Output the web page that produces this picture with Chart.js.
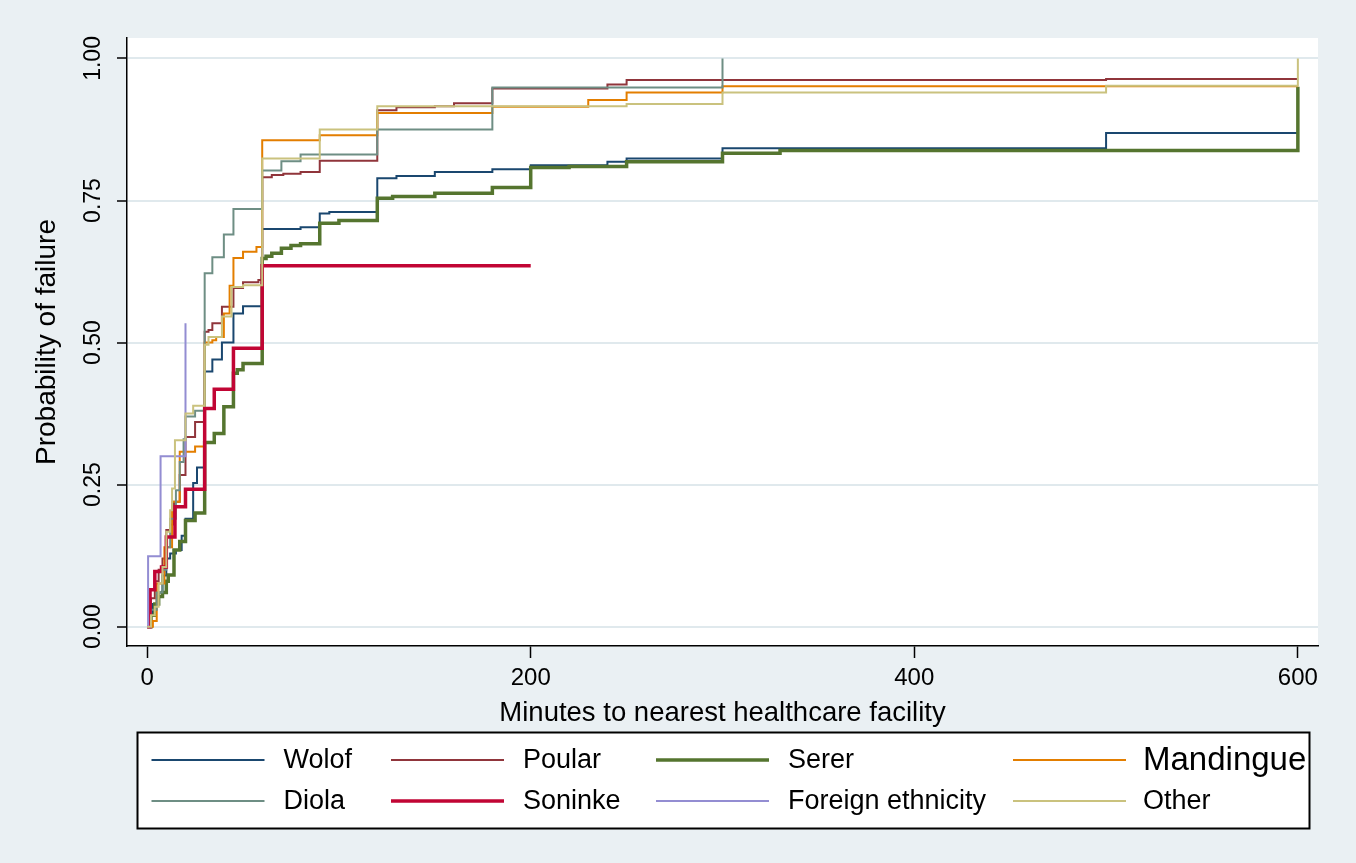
<!DOCTYPE html>
<html>
<head>
<meta charset="utf-8">
<script src="https://cdn.jsdelivr.net/npm/chart.js@4.4.1/dist/chart.umd.min.js"></script>
<style>
  html, body { margin: 0; padding: 0; background: #eaf0f3; }
  #wrap { width: 1356px; height: 863px; }
</style>
</head>
<body>
<div id="wrap"><canvas id="c" width="1356" height="863"></canvas></div>
<script>
// Kaplan-Meier failure estimates by ethnic group: minutes and cumulative failure
const groupNames = ['Wolof', 'Poular', 'Serer', 'Mandingue', 'Diola', 'Soninke', 'Foreign ethnicity', 'Other'];

const wolofMinutes = [0, 1, 2, 3, 5, 6, 8, 10, 12, 15, 18, 20, 24, 26, 30, 34, 39, 45, 50, 60, 80, 90, 95, 120, 130, 150, 180, 200, 240, 250, 300, 500, 600];
const wolofFailure = [0, 0.01, 0.02, 0.04, 0.05, 0.06, 0.09, 0.12, 0.129, 0.135, 0.16, 0.19, 0.253, 0.28, 0.449, 0.47, 0.50, 0.551, 0.564, 0.70, 0.703, 0.727, 0.73, 0.789, 0.793, 0.80, 0.805, 0.812, 0.818, 0.824, 0.842, 0.869, 0.869];

const poularMinutes = [0, 1, 2, 4, 6, 8, 10, 12, 14, 17, 20, 25, 30, 32, 34, 39, 45, 50, 58, 60, 65, 71, 80, 90, 120, 130, 150, 160, 180, 240, 250, 500, 600];
const poularFailure = [0, 0.03, 0.05, 0.08, 0.10, 0.12, 0.17, 0.18, 0.22, 0.267, 0.334, 0.36, 0.519, 0.522, 0.534, 0.563, 0.596, 0.606, 0.61, 0.791, 0.795, 0.797, 0.80, 0.82, 0.909, 0.914, 0.916, 0.921, 0.947, 0.954, 0.962, 0.964, 0.964];

const sererMinutes = [0, 2, 4, 6, 8, 10, 11, 14, 17, 20, 25, 30, 35, 40, 45, 47, 50, 60, 62, 65, 70, 75, 80, 90, 100, 120, 128, 150, 180, 200, 220, 250, 300, 330, 600];
const sererFailure = [0, 0.02, 0.04, 0.053, 0.06, 0.08, 0.091, 0.135, 0.15, 0.187, 0.20, 0.324, 0.34, 0.387, 0.446, 0.452, 0.463, 0.648, 0.652, 0.657, 0.666, 0.671, 0.674, 0.71, 0.715, 0.754, 0.757, 0.763, 0.773, 0.808, 0.81, 0.818, 0.833, 0.838, 0.95];

const mandingueMinutes = [0, 3, 5, 9, 13, 17, 25, 30, 34, 36, 40, 43, 45, 50, 57, 60, 90, 120, 180, 230, 250, 300, 600];
const mandingueFailure = [0, 0.01, 0.076, 0.14, 0.22, 0.308, 0.317, 0.50, 0.504, 0.51, 0.551, 0.60, 0.649, 0.66, 0.668, 0.856, 0.865, 0.904, 0.915, 0.927, 0.94, 0.951, 0.951];

const diolaMinutes = [0, 2, 5, 8, 10, 12, 15, 17, 19, 20, 25, 30, 34, 40, 45, 60, 70, 80, 120, 180, 300];
const diolaFailure = [0, 0.03, 0.06, 0.10, 0.14, 0.19, 0.24, 0.29, 0.33, 0.37, 0.38, 0.622, 0.65, 0.69, 0.735, 0.803, 0.819, 0.831, 0.875, 0.949, 1.0];

const soninkeMinutes = [0, 1.5, 4, 7.5, 10, 14.5, 20, 30, 35, 45, 60, 200];
const soninkeFailure = [0, 0.065, 0.097, 0.105, 0.158, 0.211, 0.242, 0.384, 0.418, 0.49, 0.635, 0.635];

const foreignMinutes = [0, 0.5, 7, 20];
const foreignFailure = [0, 0.124, 0.30, 0.534];

const otherMinutes = [0, 2, 4, 6, 8, 10, 12, 13, 14.5, 20, 24, 30, 32, 39, 44, 50, 60, 90, 120, 250, 300, 500, 600];
const otherFailure = [0, 0.02, 0.035, 0.076, 0.105, 0.167, 0.205, 0.243, 0.328, 0.375, 0.389, 0.496, 0.51, 0.546, 0.598, 0.601, 0.824, 0.875, 0.916, 0.92, 0.94, 0.952, 1.0];

const xTickValues = [0, 200, 400, 600];
const yTickValues = [0, 0.25, 0.5, 0.75, 1];

// ---- styling ----
const FONT = '"Liberation Sans", Arial, Helvetica, sans-serif';
const lineColors = ['#1a476f', '#90353b', '#55752f', '#e37e00', '#6e8e84', '#c10534', '#938dd2', '#cac27e'];
const lineWidths = [2, 2, 3.5, 2, 2, 3.5, 2, 2];

const seriesPairs = [
  [wolofMinutes, wolofFailure],
  [poularMinutes, poularFailure],
  [sererMinutes, sererFailure],
  [mandingueMinutes, mandingueFailure],
  [diolaMinutes, diolaFailure],
  [soninkeMinutes, soninkeFailure],
  [foreignMinutes, foreignFailure],
  [otherMinutes, otherFailure]
];

const datasets = groupNames.map((name, i) => ({
  label: name,
  data: seriesPairs[i][0].map((t, k) => ({ x: t, y: seriesPairs[i][1][k] })),
  borderColor: lineColors[i],
  backgroundColor: lineColors[i],
  borderWidth: lineWidths[i],
  stepped: 'before',
  pointRadius: 0,
  pointHoverRadius: 0,
  fill: false,
  borderCapStyle: 'butt',
  borderJoinStyle: 'miter',
  order: groupNames.length - i   // later groups are painted on top
}));

// Page background and white plot region
const backdropPlugin = {
  id: 'backdrop',
  beforeDraw(chart) {
    const { ctx, chartArea: a } = chart;
    ctx.save();
    ctx.fillStyle = '#eaf0f3';
    ctx.fillRect(0, 0, chart.width, chart.height);
    ctx.fillStyle = '#ffffff';
    ctx.fillRect(a.left, a.top, a.right - a.left, a.bottom - a.top);
    ctx.restore();
  }
};

// Boxed legend laid out as a 4 x 2 grid
const boxLegendPlugin = {
  id: 'boxLegend',
  afterDraw(chart, args, opts) {
    const { ctx } = chart;
    ctx.save();
    ctx.fillStyle = '#ffffff';
    ctx.fillRect(opts.left, opts.top, opts.width, opts.height);
    ctx.strokeStyle = '#000000';
    ctx.lineWidth = 2;
    ctx.strokeRect(opts.left, opts.top, opts.width, opts.height);
    chart.data.datasets.forEach((ds, i) => {
      const col = i % 4, row = Math.floor(i / 4);
      const y = opts.rows[row];
      const x0 = opts.lineStarts[col];
      ctx.strokeStyle = ds.borderColor;
      ctx.lineWidth = ds.borderWidth;
      ctx.beginPath();
      ctx.moveTo(x0, y);
      ctx.lineTo(x0 + opts.lineLength, y);
      ctx.stroke();
      const size = opts.fontSizes[ds.label] || opts.fontSize;
      ctx.font = size + 'px ' + FONT;
      ctx.fillStyle = '#000000';
      ctx.textAlign = 'left';
      ctx.textBaseline = 'middle';
      ctx.fillText(ds.label, opts.textStarts[col], y + 1);
    });
    ctx.restore();
  }
};

new Chart(document.getElementById('c'), {
  type: 'line',
  data: { datasets },
  plugins: [backdropPlugin, boxLegendPlugin],
  options: {
    responsive: false,
    animation: false,
    devicePixelRatio: 1,
    layout: { padding: { left: 0, right: 38, top: 38, bottom: 133.5 } },
    plugins: {
      legend: { display: false },
      tooltip: { enabled: false },
      boxLegend: {
        left: 137.5, top: 732.5, width: 1172, height: 96,
        rows: [760, 801],
        lineStarts: [151.5, 391, 656, 1013],
        lineLength: 113,
        textStarts: [283.5, 523, 788, 1143],
        fontSize: 27,
        fontSizes: { 'Mandingue': 33 }
      }
    },
    scales: {
      x: {
        type: 'linear',
        min: -10.5,
        max: 610.5,
        afterBuildTicks: s => { s.ticks = xTickValues.map(v => ({ value: v })); },
        afterFit: s => { s.height = 83.5; },
        grid: { display: true, drawOnChartArea: false, tickLength: 12, tickColor: '#000', tickWidth: 1.5 },
        border: { display: true, color: '#000', width: 1.5 },
        ticks: {
          color: '#000', padding: 6, maxRotation: 0, autoSkip: false,
          font: { family: FONT, size: 24 },
          callback: v => String(v)
        },
        title: {
          display: true, text: 'Minutes to nearest healthcare facility', color: '#000',
          font: { family: FONT, size: 27.5 }, padding: { top: 0, bottom: 0 }
        }
      },
      y: {
        type: 'linear',
        min: -0.034,
        max: 1.036,
        afterBuildTicks: s => { s.ticks = yTickValues.map(v => ({ value: v })); },
        afterFit: s => { s.width = 127; },
        grid: { color: '#e0e9ed', lineWidth: 2, tickLength: 10, tickColor: '#000', tickWidth: 1.5, drawOnChartArea: true },
        border: { display: true, color: '#000', width: 1.5 },
        ticks: {
          color: '#000', padding: 1, minRotation: 90, maxRotation: 90, crossAlign: 'center',
          font: { family: FONT, size: 23 },
          callback: v => Number(v).toFixed(2)
        },
        title: {
          display: true, text: 'Probability of failure', color: '#000',
          font: { family: FONT, size: 28 }, padding: { top: 30, bottom: 0 }
        }
      }
    }
  }
});
</script>
</body>
</html>
